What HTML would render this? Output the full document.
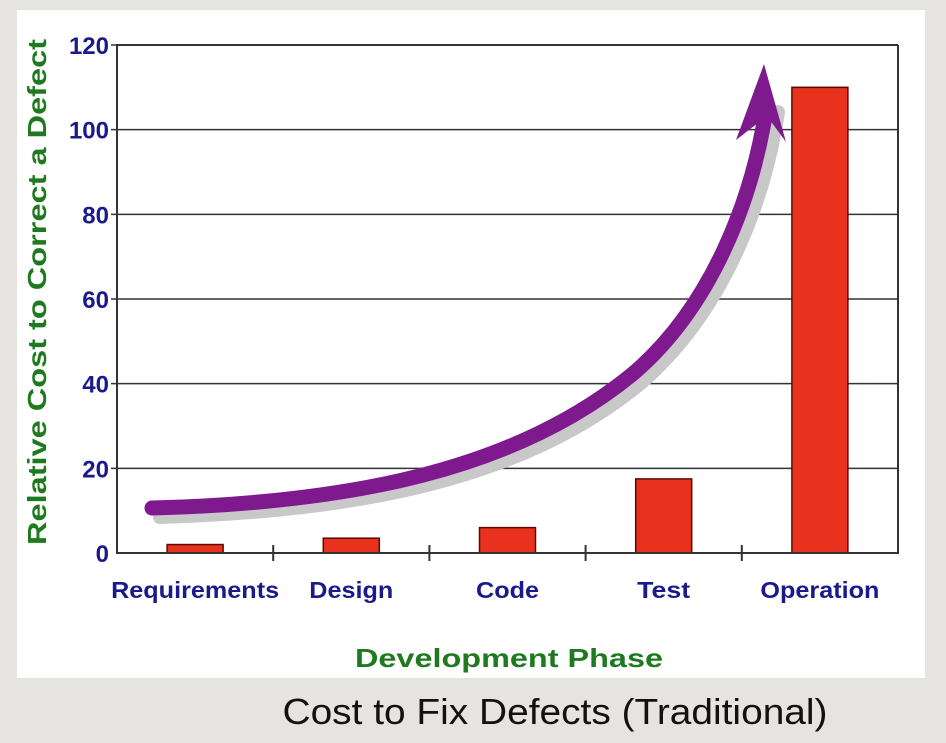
<!DOCTYPE html>
<html><head><meta charset="utf-8"><style>
body{margin:0;background:#e6e4e0;width:946px;height:738px;overflow:hidden;font-family:"Liberation Sans",sans-serif}
</style></head><body>
<svg width="946" height="738">
<rect x="17" y="10" width="908" height="668" fill="#fff"/>
<g id="grid"></g>
<g id="bars"></g>
<g id="axes"></g>
<path d="M160,517 C352,511 522,482 642,382 C722,312 764,205 778,112" fill="none" stroke="#c8c8c8" stroke-width="14" stroke-linecap="round"/>
<path d="M152,508 C345,503 515,472 635,372 C712,305 752,200 766,110" fill="none" stroke="#7e1a8e" stroke-width="15" stroke-linecap="round"/>
<polygon points="764,64 736,140 767,116 786,142" fill="#7e1a8e"/>
<text transform="translate(46,292) rotate(-90)" text-anchor="middle" font-size="26" font-weight="bold" fill="#1f7a1f" textLength="506" lengthAdjust="spacingAndGlyphs">Relative Cost to Correct a Defect</text>
<text x="509" y="667" text-anchor="middle" font-size="26" font-weight="bold" fill="#1f7a1f" textLength="308" lengthAdjust="spacingAndGlyphs">Development Phase</text>
<text x="555" y="724" text-anchor="middle" font-size="36" fill="#111" textLength="545" lengthAdjust="spacingAndGlyphs">Cost to Fix Defects (Traditional)</text>
</svg>
<script>
const categories=["Requirements","Design","Code","Test","Operation"];
const values=[2,3.5,6,17.5,110];
const yTicks=[0,20,40,60,80,100,120];
const labelWidths=[168,84,63,53,119];
const L=117,R=898,T=45,B=553,yMax=120;
const y=v=>B-(v/yMax)*(B-T);
const bw=(R-L)/categories.length;
const xc=i=>L+bw*(i+0.5);
const NS="http://www.w3.org/2000/svg";
function mk(tag,attrs,parent,txt){const e=document.createElementNS(NS,tag);for(const k in attrs)e.setAttribute(k,attrs[k]);if(txt!==undefined)e.textContent=txt;document.getElementById(parent).appendChild(e);return e;}
yTicks.forEach(t=>{
  if(t>0){const g=mk('line',{x1:L-6,x2:R,y1:y(t),y2:y(t),stroke:'#333','stroke-width':1.5},'grid');
  
  }
  const tx=mk('text',{x:L-8,y:y(t)+9,'text-anchor':'end','font-size':24,'font-weight':'bold',fill:'#1a1a8c'},'axes',t);
  
  
});
categories.forEach((c,i)=>{
  const w=56;
  const b=mk('rect',{x:xc(i)-w/2,y:y(values[i]),width:w,height:B-y(values[i]),fill:'#e8321e',stroke:'#5a0a00','stroke-width':1.5},'bars');
  
  
  const t=mk('text',{x:xc(i),y:598,'text-anchor':'middle','font-size':23,'font-weight':'bold',fill:'#1a1a8c',textLength:labelWidths[i],lengthAdjust:'spacingAndGlyphs'},'axes',c);
  
  
  if(i>0){const tk=mk('line',{x1:L+bw*i,x2:L+bw*i,y1:B-8,y2:B+8,stroke:'#333','stroke-width':2},'axes');
  
  }
});
const ax=mk('path',{d:`M${R},${T} L${L},${T} L${L},${B} L${R},${B} L${R},${T}`,fill:'none',stroke:'#333','stroke-width':2},'axes');


</script>
</body></html>
